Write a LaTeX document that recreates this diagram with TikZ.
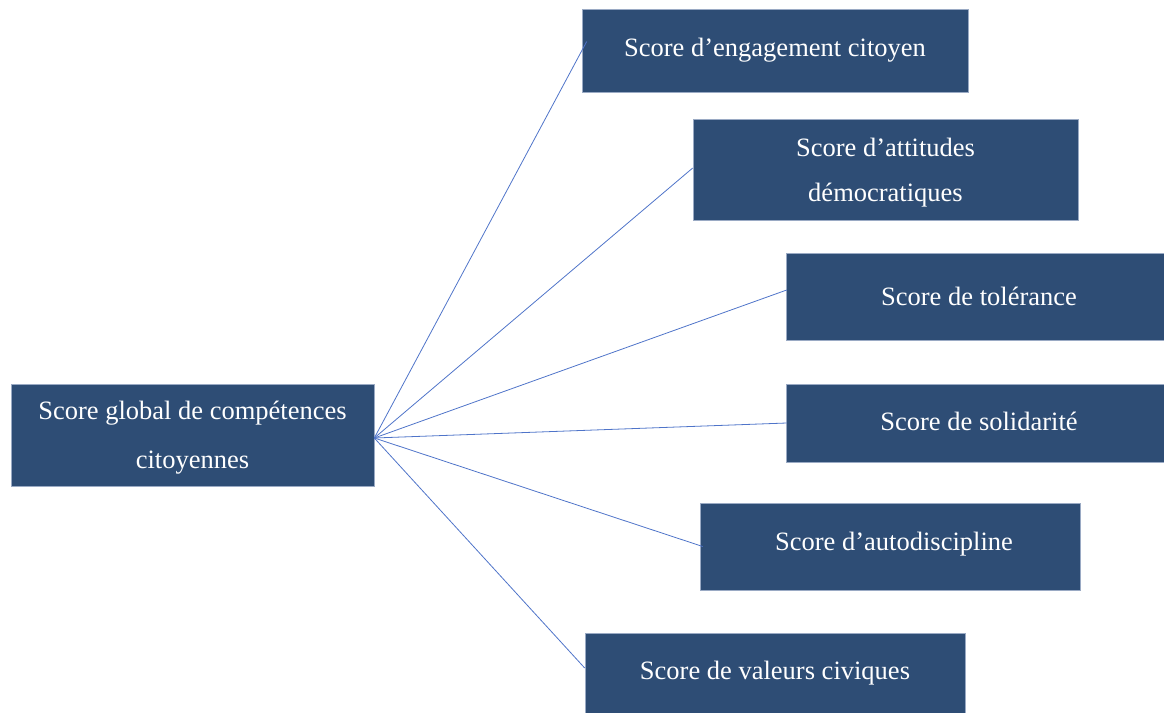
\documentclass[tikz,border=0pt]{standalone}
\usepackage{fontspec}
\setmainfont{Liberation Serif}
\usetikzlibrary{calc}
\definecolor{boxfill}{HTML}{2E4D75}
\definecolor{boxedge}{HTML}{9AAAC4}
\definecolor{linkblue}{HTML}{4F74C9}
\begin{document}
\begin{tikzpicture}[x=1pt,y=-1pt,
  scorebox/.style={draw=boxedge,line width=0.6pt,fill=boxfill,text=white,
    font=\fontsize{26.5}{45}\selectfont,align=center,inner sep=0pt},
  link/.style={draw=linkblue,line width=0.8pt}]
\useasboundingbox (0,0) rectangle (1164,712);
% boxes
\node[scorebox,minimum width=363pt,minimum height=102pt] (g) at (192.5,435) {\raisebox{-6pt}{\begin{tabular}{@{}c@{}}Score global de compétences\\[4pt]citoyennes\end{tabular}}};
\node[scorebox,minimum width=386pt,minimum height=83pt] (b1) at (775,50.5) {\raisebox{6pt}{Score d’engagement citoyen}};
\node[scorebox,minimum width=385pt,minimum height=101pt] (b2) at (885.5,169.5) {\raisebox{-6pt}{\begin{tabular}{@{}c@{}}Score d’attitudes\\démocratiques\end{tabular}}};
\node[scorebox,minimum width=378pt,minimum height=87pt] (b3) at (975,296.5) {\raisebox{-1pt}{\hspace*{8pt}Score de tolérance}};
\node[scorebox,minimum width=378pt,minimum height=78pt] (b4) at (975,423) {\raisebox{3pt}{\hspace*{8pt}Score de solidarité}};
\node[scorebox,minimum width=380pt,minimum height=87pt] (b5) at (890,546.5) {\raisebox{10pt}{\hspace*{8pt}Score d’autodiscipline}};
\node[scorebox,minimum width=380pt,minimum height=80pt] (b6) at (775,673) {\raisebox{-8pt}{Score de valeurs civiques}};
% connector end points
\coordinate (s) at ($(g.east)+(0,3)$);
\coordinate (e1) at ($(b1.west)+(5,-9)$);
\coordinate (e2) at ($(b2.west)+(0,-1.5)$);
\coordinate (e3) at ($(b3.west)+(1,-6.5)$);
\coordinate (e4) at ($(b4.west)+(1,0)$);
\coordinate (e5) at ($(b5.west)+(3,0)$);
\coordinate (e6) at ($(b6.west)+(0,-5)$);
\foreach \e in {e1,e2,e3,e4,e5,e6} \draw[link] (s) -- (\e);
\end{tikzpicture}
\end{document}
